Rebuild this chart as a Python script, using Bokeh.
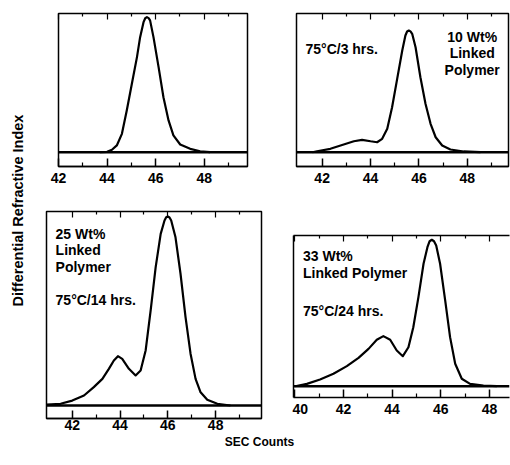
import numpy as np
from bokeh.plotting import figure
from bokeh.models import LinearAxis, FixedTicker, Span, Label, Range1d
from bokeh.layouts import row, column
from bokeh.embed import file_html
from bokeh.resources import INLINE

# ---------------- data (SEC counts vs. normalised DRI response) ----------------
p1_x = [43.7, 44.0, 44.2, 44.4, 44.61, 44.81, 45.02, 45.23, 45.36, 45.5, 45.57, 45.64,
        45.71, 45.77, 45.91, 46.12, 46.32, 46.53, 46.73, 47.01, 47.42, 47.83, 48.24]
p1_y = [0, 0.3, 1.8, 5.0, 13.6, 30.9, 50.7, 70.4, 85.2, 96.3, 99.2, 100,
        99.3, 97.6, 85.2, 63.0, 40.7, 23.5, 12.4, 5.7, 2.5, 0.7, 0]

p2_x = [41.6, 41.79, 42.34, 42.89, 43.31, 43.65, 44.0, 44.27, 44.48, 44.69, 44.89, 45.10,
        45.31, 45.44, 45.51, 45.58, 45.65, 45.72, 45.86, 46.06, 46.27, 46.48, 46.69, 46.96,
        47.30, 47.85, 48.54]
p2_y = [0, 0.8, 2.8, 6.3, 9.0, 10.2, 9.0, 8.2, 11.0, 19.2, 37.0, 60.3,
        83.6, 95.9, 99.2, 100, 99.3, 97.3, 86.3, 61.6, 39.8, 23.3, 12.3, 5.5,
        2.2, 0.6, 0]

p3_x = [40.92, 41.51, 42.0, 42.49, 42.9, 43.26, 43.53, 43.74, 43.91, 44.09, 44.37, 44.65,
        44.86, 45.07, 45.28, 45.49, 45.7, 45.86, 45.93, 46.0, 46.07, 46.14, 46.32, 46.53,
        46.74, 46.95, 47.16, 47.37, 47.65, 48.07, 48.62]
p3_y = [0.5, 0.9, 2.6, 5.3, 9.7, 14.1, 19.4, 23.8, 26.1, 24.7, 19.4, 15.9,
        18.5, 29.1, 50.3, 73.2, 90.8, 97.9, 99.6, 100, 99.5, 97.9, 89.0, 69.7,
        46.7, 27.4, 14.1, 7.0, 3.0, 0.9, 0]

p4_x = [40.02, 40.5, 41.04, 41.59, 42.14, 42.62, 43.03, 43.37, 43.64, 43.92, 44.19, 44.44,
        44.67, 44.87, 45.08, 45.29, 45.45, 45.54, 45.63, 45.72, 45.81, 45.97, 46.18, 46.38,
        46.59, 46.86, 47.2, 47.75, 48.3]
p4_y = [0, 1.6, 4.6, 8.5, 13.7, 19.4, 25.5, 31.7, 34.2, 31.7, 24.4, 20.5,
        26.6, 40.3, 60.8, 83.6, 94.9, 99.0, 100, 99.0, 96.1, 83.6, 58.5, 33.5,
        15.3, 5.1, 1.6, 0.5, 0]

ticks_a = [42, 44, 46, 48]
minor_a = [43, 45, 47, 49]
ticks_b = [40, 42, 44, 46, 48]
minor_b = [41, 43, 45, 47]

FONT = "Liberation Sans"


def top_ticks(p, positions, length, line=False):
    ax = LinearAxis(ticker=FixedTicker(ticks=[], minor_ticks=positions))
    ax.axis_line_color = "black" if line else None
    ax.axis_line_width = 1.5
    ax.major_tick_in = 0
    ax.major_tick_out = 0
    ax.minor_tick_in = length
    ax.minor_tick_out = 0
    ax.minor_tick_line_width = 1.2
    ax.major_label_standoff = 0
    p.add_layout(ax, "above")


def panel(width, height, xr, yr, borders, xs, ys, ticks, minor, standoff=6, open_right=False):
    l, r, t, b = borders
    p = figure(width=width, height=height, x_range=Range1d(*xr), y_range=Range1d(*yr),
               output_backend="svg", toolbar_location=None,
               x_axis_location=None, y_axis_location=None,
               min_border_left=l, min_border_right=r, min_border_top=t, min_border_bottom=b)
    p.frame_align = False
    p.xgrid.grid_line_color = None
    p.ygrid.grid_line_color = None
    p.outline_line_color = None if open_right else "black"
    p.outline_line_width = 1.5
    p.background_fill_color = "white"
    p.border_fill_color = "white"

    bottom = LinearAxis(ticker=FixedTicker(ticks=ticks, minor_ticks=minor))
    bottom.axis_line_width = 1.5
    bottom.major_tick_in = 8
    bottom.major_tick_out = 0
    bottom.minor_tick_in = 4
    bottom.minor_tick_out = 0
    bottom.major_tick_line_width = 1.5
    bottom.minor_tick_line_width = 1.2
    bottom.major_label_standoff = standoff
    bottom.major_label_text_font = FONT
    bottom.major_label_text_font_style = "bold"
    bottom.major_label_text_font_size = "14px"
    bottom.major_label_text_color = "black"
    p.add_layout(bottom, "below")

    top_ticks(p, ticks, 6, line=open_right)
    top_ticks(p, minor, 3)

    if open_right:
        left = LinearAxis(ticker=FixedTicker(ticks=[], minor_ticks=[]))
        left.axis_line_width = 1.5
        left.major_label_standoff = 0
        p.add_layout(left, "left")

    p.add_layout(Span(location=0, dimension="width", line_color="black", line_width=2.5))
    p.line(xs, ys, line_color="black", line_width=2.2, line_join="round")
    return p


def note(p, x, y, text, align="left"):
    p.add_layout(Label(x=x, y=y, text=text, text_align=align, text_baseline="top",
                       text_font=FONT, text_font_style="bold", text_font_size="14px",
                       text_color="black", text_line_height=1.04))


def strip(width, height):
    s = figure(width=width, height=height, x_range=Range1d(0, width), y_range=Range1d(0, height),
               output_backend="svg", toolbar_location=None,
               x_axis_location=None, y_axis_location=None, min_border=0)
    s.frame_align = False
    s.outline_line_color = None
    s.xgrid.grid_line_color = None
    s.ygrid.grid_line_color = None
    return s


# layout: ylabel strip | (row1: p1 p2 / row2: p3 p4 / xlabel strip)
p1 = panel(240, 198, (42.0, 49.78), (-10.6, 102.7), (26, 25, 13, 32), p1_x, p1_y, ticks_a, minor_a)
p2 = panel(238, 198, (40.94, 49.70), (-11.75, 114.0), (24, 2, 13, 32), p2_x, p2_y, ticks_a, minor_a)
p3 = panel(260, 237, (40.92, 49.92), (-6.88, 102.65), (14, 31, 13, 17), p3_x, p3_y, ticks_a, minor_a,
           standoff=1)
p4 = panel(218, 237, (39.95, 48.82), (-7.7, 102.9), (1, 1, 37, 38), p4_x, p4_y, ticks_b, minor_b,
           open_right=True)

note(p2, 41.31, 91.0, "75°C/3 hrs.")
note(p2, 48.20, 101.6, "10 Wt%\nLinked\nPolymer", align="center")
note(p3, 41.30, 95.2, "25 Wt%\nLinked\nPolymer")
note(p3, 41.30, 60.3, "75°C/14 hrs.")
note(p4, 40.34, 94.1, "33 Wt%\nLinked Polymer")
note(p4, 40.34, 56.5, "75°C/24 hrs.")

xlab = strip(478, 30)
xlab.add_layout(Label(x=227, y=24, text="SEC Counts", text_align="center",
                      text_baseline="middle", text_font=FONT, text_font_style="bold",
                      text_font_size="12px", text_color="black"))

ylab = strip(32, 465)
ylab.add_layout(Label(x=17, y=255, text="Differential Refractive Index", angle=np.pi / 2,
                      text_align="center", text_baseline="middle", text_font=FONT,
                      text_font_style="bold", text_font_size="14.5px", text_color="black"))

layout = row(ylab, column(row(p1, p2), row(p3, p4), xlab))

open("out.html", "w").write(file_html(layout, INLINE))
